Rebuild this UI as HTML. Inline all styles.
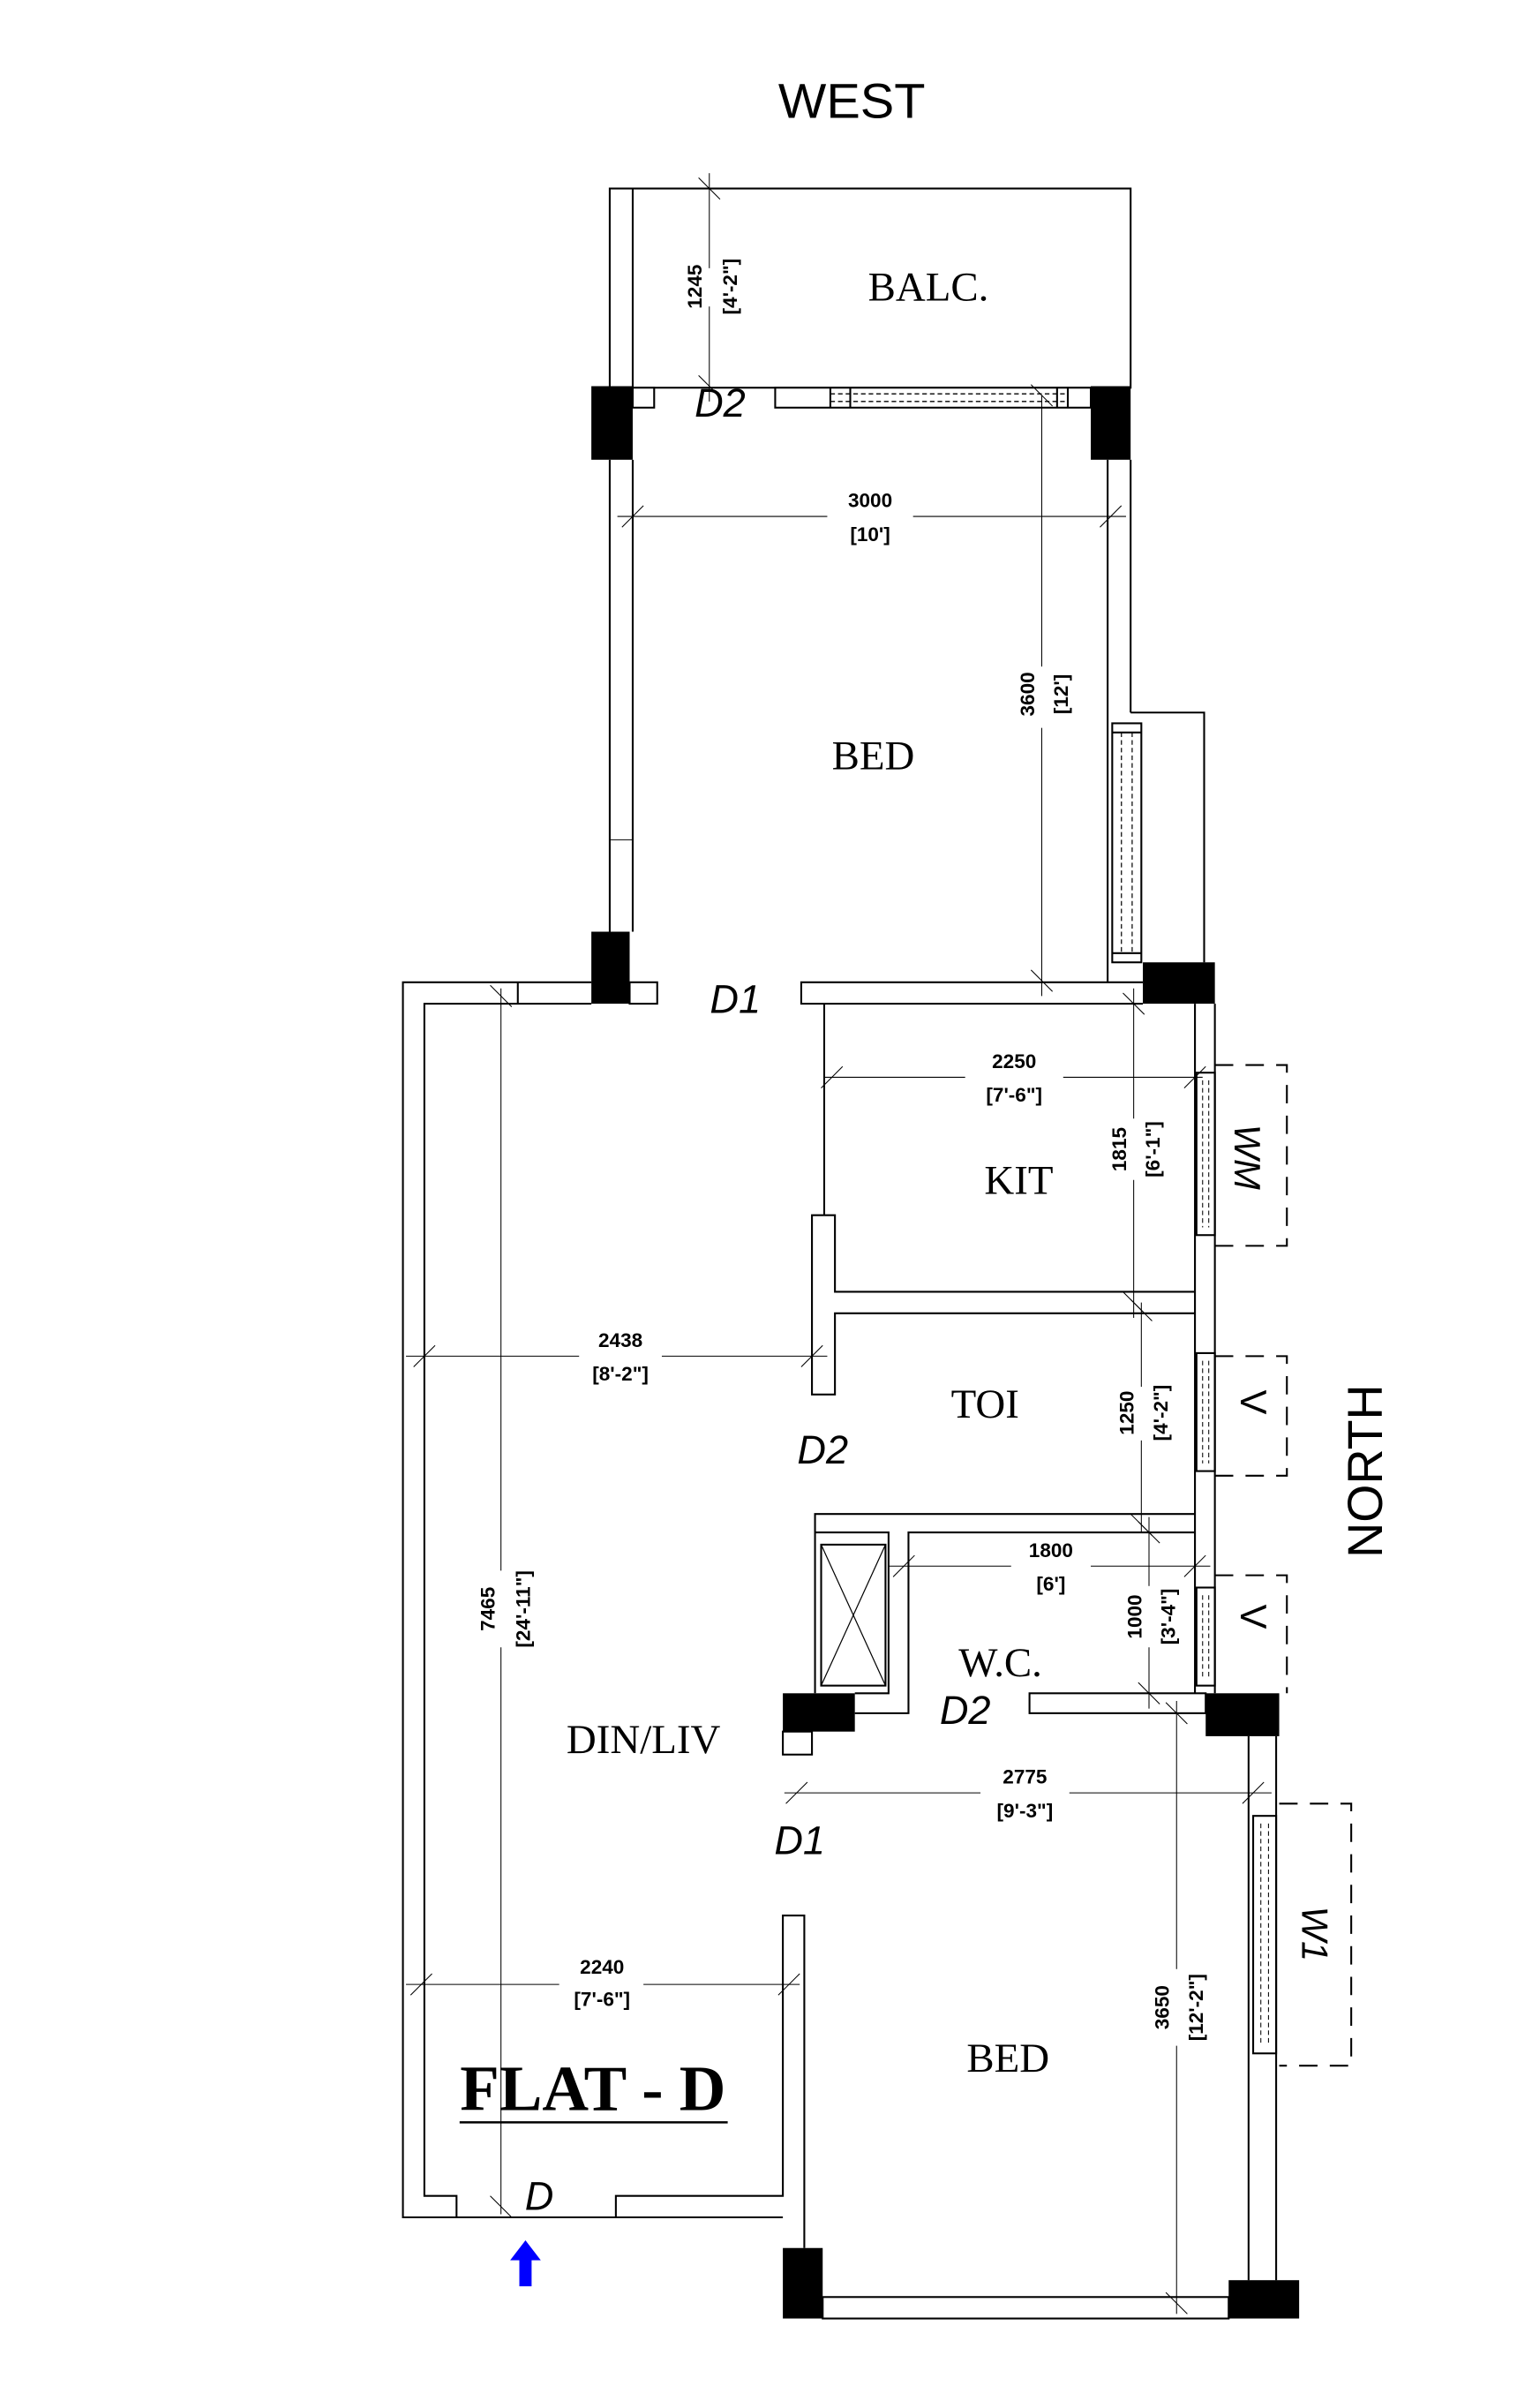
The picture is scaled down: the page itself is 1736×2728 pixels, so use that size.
<!DOCTYPE html>
<html><head><meta charset="utf-8"><style>html,body{margin:0;padding:0;background:#fff}svg{display:block}</style></head><body>
<svg width="1736" height="2728" viewBox="0 0 1000 1571.4" xmlns="http://www.w3.org/2000/svg">
<g fill="none" stroke="#000" stroke-width="1.2">
<!-- balcony -->
<rect x="398" y="123" width="340" height="130"/>
<line x1="413" y1="123" x2="413" y2="253"/>
<rect x="413" y="253" width="14" height="13" fill="#fff"/>
<rect x="506" y="253" width="206" height="13" fill="#fff"/>
<line x1="542" y1="253" x2="542" y2="266"/><line x1="555" y1="253" x2="555" y2="266"/>
<line x1="690" y1="253" x2="690" y2="266"/><line x1="697" y1="253" x2="697" y2="266"/>
<line x1="542" y1="257" x2="697" y2="257" stroke-dasharray="3,2" stroke-width="0.8"/>
<line x1="542" y1="262" x2="697" y2="262" stroke-dasharray="3,2" stroke-width="0.8"/>
<!-- upper bed walls -->
<line x1="398" y1="300" x2="398" y2="608"/><line x1="413" y1="300" x2="413" y2="608"/>
<line x1="398" y1="548" x2="413" y2="548" stroke-width="0.6"/>
<line x1="723" y1="300" x2="723" y2="641"/><line x1="738" y1="300" x2="738" y2="465"/>
<polyline points="738,465 786,465 786,628"/>
<rect x="726" y="472" width="19" height="156"/>
<line x1="732" y1="478" x2="732" y2="622" stroke-dasharray="3,2" stroke-width="0.7"/>
<line x1="739" y1="478" x2="739" y2="622" stroke-dasharray="3,2" stroke-width="0.7"/>
<line x1="726" y1="478" x2="745" y2="478"/><line x1="726" y1="622" x2="745" y2="622"/>
<!-- top wall of dining -->
<polyline points="386,641 263,641 263,1447 511,1447"/>
<polyline points="386,655 277,655 277,1433 298,1433 298,1447"/>
<polyline points="402,1447 402,1433 511,1433 511,1250 525,1250 525,1467"/>
<line x1="338" y1="641" x2="338" y2="655"/>
<rect x="411" y="641" width="18" height="14" fill="#fff"/>
<polyline points="746,641 523,641 523,655 746,655"/>
<!-- kitchen -->
<line x1="538" y1="655" x2="538" y2="793"/>
<polyline points="538,793 530,793 530,910 545,910 545,857 780,857"/>
<polyline points="538,793 545,793 545,843 780,843"/>
<line x1="780" y1="655" x2="780" y2="1105"/><line x1="793" y1="655" x2="793" y2="1105"/>
<!-- windows right -->
<rect x="781" y="700" width="12" height="106"/>
<line x1="785" y1="705" x2="785" y2="801" stroke-dasharray="3,2" stroke-width="0.6"/>
<line x1="789" y1="705" x2="789" y2="801" stroke-dasharray="3,2" stroke-width="0.6"/>
<rect x="781" y="883" width="12" height="77"/>
<line x1="785" y1="888" x2="785" y2="955" stroke-dasharray="3,2" stroke-width="0.6"/>
<line x1="789" y1="888" x2="789" y2="955" stroke-dasharray="3,2" stroke-width="0.6"/>
<rect x="781" y="1036" width="12" height="64"/>
<line x1="785" y1="1041" x2="785" y2="1095" stroke-dasharray="3,2" stroke-width="0.6"/>
<line x1="789" y1="1041" x2="789" y2="1095" stroke-dasharray="3,2" stroke-width="0.6"/>
<g stroke-dasharray="12,8">
<polyline points="793,695 840,695 840,813 793,813"/>
<polyline points="793,885 840,885 840,963 793,963"/>
<polyline points="793,1028 840,1028 840,1105"/>
<polyline points="835,1177 882,1177 882,1348 835,1348"/>
</g>
<!-- toi / wc -->
<polyline points="780,988 532,988 532,1105"/>
<polyline points="532,1000 580,1000 580,1105 558,1105"/>
<polyline points="780,1000 593,1000 593,1118 558,1118"/>
<rect x="536" y="1008" width="42" height="92"/>
<line x1="536" y1="1008" x2="578" y2="1100" stroke-width="0.7"/><line x1="578" y1="1008" x2="536" y2="1100" stroke-width="0.7"/>
<rect x="672" y="1105" width="115" height="13" fill="#fff"/>
<rect x="511" y="1130" width="19" height="15"/>
<!-- lower bed -->
<line x1="815" y1="1133" x2="815" y2="1488"/><line x1="833" y1="1133" x2="833" y2="1488"/>
<rect x="818" y="1185" width="15" height="155"/>
<line x1="823" y1="1190" x2="823" y2="1335" stroke-dasharray="3,2" stroke-width="0.6"/>
<line x1="828" y1="1190" x2="828" y2="1335" stroke-dasharray="3,2" stroke-width="0.6"/>
<rect x="537" y="1499" width="265" height="14"/>
</g>
<!-- columns -->
<g fill="#000">
<rect x="386" y="252" width="27" height="48"/><rect x="712" y="252" width="26" height="48"/>
<rect x="386" y="608" width="25" height="47"/><rect x="746" y="628" width="47" height="27"/>
<rect x="511" y="1105" width="47" height="25"/><rect x="787" y="1105" width="48" height="28"/>
<rect x="511" y="1467" width="26" height="46"/><rect x="802" y="1488" width="46" height="25"/>
</g>
<!-- dimensions -->
<g stroke="#000" stroke-width="0.6">
<line x1="463" y1="113" x2="463" y2="175"/><line x1="463" y1="200" x2="463" y2="262"/>
<line x1="456" y1="116" x2="470" y2="130"/><line x1="456" y1="245" x2="470" y2="259"/>
<line x1="403" y1="337" x2="540" y2="337"/><line x1="596" y1="337" x2="735" y2="337"/>
<line x1="406" y1="344" x2="420" y2="330"/><line x1="718" y1="344" x2="732" y2="330"/>
<line x1="680" y1="258" x2="680" y2="435"/><line x1="680" y1="475" x2="680" y2="650"/>
<line x1="673" y1="251" x2="687" y2="265"/><line x1="673" y1="633" x2="687" y2="647"/>
<line x1="538" y1="703" x2="630" y2="703"/><line x1="694" y1="703" x2="785" y2="703"/>
<line x1="536" y1="710" x2="550" y2="696"/><line x1="773" y1="710" x2="787" y2="696"/>
<line x1="740" y1="645" x2="740" y2="730"/><line x1="740" y1="770" x2="740" y2="860"/>
<line x1="733" y1="648" x2="747" y2="662"/><line x1="733" y1="843" x2="747" y2="857"/>
<line x1="745" y1="850" x2="745" y2="905"/><line x1="745" y1="940" x2="745" y2="1000"/>
<line x1="738" y1="848" x2="752" y2="862"/><line x1="738" y1="988" x2="752" y2="1002"/>
<line x1="750" y1="990" x2="750" y2="1035"/><line x1="750" y1="1075" x2="750" y2="1115"/>
<line x1="743" y1="993" x2="757" y2="1007"/><line x1="743" y1="1098" x2="757" y2="1112"/>
<line x1="580" y1="1022" x2="660" y2="1022"/><line x1="712" y1="1022" x2="790" y2="1022"/>
<line x1="583" y1="1029" x2="597" y2="1015"/><line x1="773" y1="1029" x2="787" y2="1015"/>
<line x1="265" y1="885" x2="378" y2="885"/><line x1="432" y1="885" x2="540" y2="885"/>
<line x1="270" y1="892" x2="284" y2="878"/><line x1="523" y1="892" x2="537" y2="878"/>
<line x1="327" y1="645" x2="327" y2="1025"/><line x1="327" y1="1075" x2="327" y2="1445"/>
<line x1="320" y1="643" x2="334" y2="657"/><line x1="320" y1="1433" x2="334" y2="1447"/>
<line x1="512" y1="1170" x2="640" y2="1170"/><line x1="698" y1="1170" x2="830" y2="1170"/>
<line x1="513" y1="1177" x2="527" y2="1163"/><line x1="811" y1="1177" x2="825" y2="1163"/>
<line x1="768" y1="1110" x2="768" y2="1285"/><line x1="768" y1="1335" x2="768" y2="1510"/>
<line x1="761" y1="1111" x2="775" y2="1125"/><line x1="761" y1="1496" x2="775" y2="1510"/>
<line x1="265" y1="1295" x2="365" y2="1295"/><line x1="420" y1="1295" x2="522" y2="1295"/>
<line x1="268" y1="1302" x2="282" y2="1288"/><line x1="508" y1="1302" x2="522" y2="1288"/>
</g>
<g font-family="Liberation Sans, sans-serif" font-size="13" text-anchor="middle" fill="#000" font-weight="bold">
<text transform="translate(458,187) rotate(-90)">1245</text>
<text transform="translate(481,187) rotate(-90)">[4'-2"]</text>
<text x="568" y="331">3000</text><text x="568" y="353">[10']</text>
<text transform="translate(675,453) rotate(-90)">3600</text>
<text transform="translate(697,453) rotate(-90)">[12']</text>
<text x="662" y="697">2250</text><text x="662" y="719">[7'-6"]</text>
<text transform="translate(735,750) rotate(-90)">1815</text>
<text transform="translate(757,750) rotate(-90)">[6'-1"]</text>
<text transform="translate(740,922) rotate(-90)">1250</text>
<text transform="translate(762,922) rotate(-90)">[4'-2"]</text>
<text transform="translate(745,1055) rotate(-90)">1000</text>
<text transform="translate(767,1055) rotate(-90)">[3'-4"]</text>
<text x="686" y="1016">1800</text><text x="686" y="1038">[6']</text>
<text x="405" y="879">2438</text><text x="405" y="901">[8'-2"]</text>
<text transform="translate(323,1050) rotate(-90)">7465</text>
<text transform="translate(346,1050) rotate(-90)">[24'-11"]</text>
<text x="669" y="1164">2775</text><text x="669" y="1186">[9'-3"]</text>
<text transform="translate(763,1310) rotate(-90)">3650</text>
<text transform="translate(785,1310) rotate(-90)">[12'-2"]</text>
<text x="393" y="1288">2240</text><text x="393" y="1309">[7'-6"]</text>
</g>
<g font-family="Liberation Serif, serif" font-size="27" text-anchor="middle" fill="#000">
<text x="606" y="196">BALC.</text>
<text x="570" y="502">BED</text>
<text x="665" y="779">KIT</text>
<text x="643" y="925">TOI</text>
<text x="653" y="1094">W.C.</text>
<text x="420" y="1144">DIN/LIV</text>
<text x="658" y="1352">BED</text>
<text x="387" y="1377" font-size="42" font-weight="bold">FLAT - D</text>
</g>
<line x1="300" y1="1385" x2="475" y2="1385" stroke="#000" stroke-width="1.5"/>
<g font-family="Liberation Sans, sans-serif" font-style="italic" fill="#000" text-anchor="middle" font-size="26">
<text x="470" y="272">D2</text>
<text x="480" y="661">D1</text>
<text x="537" y="955">D2</text>
<text x="630" y="1125">D2</text>
<text x="522" y="1210">D1</text>
<text x="352" y="1442">D</text>
<text x="556" y="77" font-style="normal" font-size="32" textLength="96" lengthAdjust="spacingAndGlyphs">WEST</text>
<text transform="translate(902,960) rotate(-90)" font-style="normal" font-size="32">NORTH</text>
<text transform="translate(806,755) rotate(90)" font-size="24">WM</text>
<text transform="translate(810,915) rotate(90)" font-size="24" font-style="normal">V</text>
<text transform="translate(810,1055) rotate(90)" font-size="24" font-style="normal">V</text>
<text transform="translate(850,1262) rotate(90)" font-size="24">W1</text>
</g>
<polygon points="343,1462 353,1475 347,1475 347,1492 339,1492 339,1475 333,1475" fill="#0000ff"/>
</svg>
</body></html>
